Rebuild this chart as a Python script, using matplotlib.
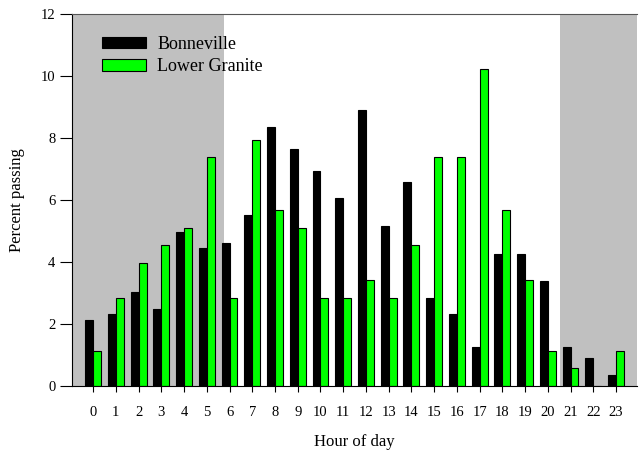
import numpy as np
import matplotlib
matplotlib.use("Agg")
import matplotlib.pyplot as plt

plt.rcParams['font.family'] = ['Liberation Serif', 'DejaVu Serif']

# percent of fish passing per hour at each dam
hours = list(range(24))
bonneville = [2.14, 2.31, 3.02, 2.49, 4.98, 4.45, 4.63, 5.52, 8.36, 7.65,
              6.94, 6.05, 8.90, 5.16, 6.58, 2.85, 2.31, 1.25, 4.27, 4.27,
              3.38, 1.25, 0.89, 0.36]
lower_granite = [1.14, 2.84, 3.98, 4.55, 5.11, 7.39, 2.84, 7.95, 5.68, 5.11,
                 2.84, 2.84, 3.41, 2.84, 4.55, 7.39, 7.39, 10.23, 5.68, 3.41,
                 1.14, 0.57, 0.0, 1.14]
# dark hours (before sunrise / after sunset)
night_start = 20.55
night_end = 5.75

fig = plt.figure(figsize=(6.4, 4.5), dpi=100)
ax = fig.add_axes([0.1125, 0.142, 0.883, 0.827])

x = np.array(hours)
w = 0.35
ax.axvspan(-1, night_end, color='#c0c0c0', zorder=0, lw=0)
ax.axvspan(night_start, 25, color='#c0c0c0', zorder=0, lw=0)
ax.bar(x - w / 2, bonneville, w, color='black', edgecolor='black', linewidth=0.8,
       label='Bonneville', zorder=2)
ax.bar(x + w / 2, lower_granite, w, color='#00ff00', edgecolor='black', linewidth=0.8,
       label='Lower Granite', zorder=2)

ax.set_xlim(-0.93, 23.93)
ax.set_ylim(0, 12)
ax.set_xticks(hours)
ax.set_yticks(range(0, 13, 2))
ax.tick_params(direction='out', width=0.8, labelsize=10.5)
ax.tick_params(axis='y', length=9, pad=3)
ax.tick_params(axis='x', length=4, pad=10)
ax.spines['top'].set_color('#555555')
ax.spines['right'].set_visible(False)

ax.set_xlabel('Hour of day', fontsize=12, labelpad=11)
ax.set_ylabel('Percent passing', fontsize=12, labelpad=11)

ax.legend(loc='upper left', bbox_to_anchor=(0.025, 0.985), frameon=False, fontsize=13,
          handlelength=2.4, handleheight=0.6, labelspacing=0.3, handletextpad=0.65)

fig.savefig('out.png', dpi=100)
